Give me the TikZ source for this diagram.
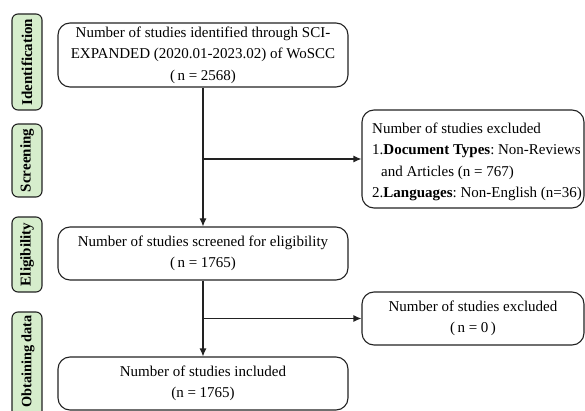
\documentclass[tikz,border=0pt]{standalone}
\usepackage{fontspec}
\setmainfont{Liberation Serif}
\usetikzlibrary{arrows.meta}
\definecolor{tabgreen}{HTML}{D6EDCC}
\definecolor{edge}{HTML}{222222}
\begin{document}
\frenchspacing
\begin{tikzpicture}[x=1pt,y=-1pt,
  font=\fontsize{15}{21.5}\selectfont,
  box/.style={draw=edge,line width=1.1pt,rounded corners=12pt,inner sep=0pt,align=center},
  tab/.style={draw=edge,fill=tabgreen,line width=1.1pt,rounded corners=6pt,inner sep=0pt,rotate=90,font=\fontsize{15}{18}\selectfont\bfseries},
  tablabel/.style={rotate=90,inner sep=0pt,font=\fontsize{14.3}{18}\selectfont\bfseries},
  link/.style={draw=edge,line width=1.1pt},
  arr/.style={link,-{Latex[length=8pt,width=7pt]}}]
\useasboundingbox (0,0) rectangle (585,411);
\begin{scope}
\clip (0,0) rectangle (585,411);
% tabs
\node[tab,minimum width=96pt,minimum height=30pt] (t1) at (27,62) {Identification};
\node[tab,minimum width=73pt,minimum height=30pt] (t2) at (27,160.5) {Screening};
\node[tab,minimum width=75pt,minimum height=30pt] (t3) at (27,254.5) {Eligibility};
\node[tab,minimum width=110pt,minimum height=30pt] (t4) at (27,367) {};
\node[tablabel] (t4l) at (28,361.5) {Obtaining data};
% main boxes
\node[box,minimum width=290pt,minimum height=64pt] (b1) at (203,55)
  {Number of studies identified through SCI-\\EXPANDED (2020.01-2023.02) of WoSCC\\(\,n = 2568)};
\node[box,minimum width=290pt,minimum height=53pt] (b2) at (203,253.5)
  {Number of studies screened for eligibility\\(\,n = 1765)};
\node[box,minimum width=290pt,minimum height=53pt] (b3) at (203,383.5)
  {Number of studies included\\(n = 1765)};
% exclusion boxes
\node[box,minimum width=222pt,minimum height=98pt] (e1) at (473,159) {};
\node[inner sep=0pt,align=left,anchor=west] (e1t) at (372,162)
  {Number of studies excluded\\1.\textbf{Document Types}: Non-Reviews\\\hspace*{0.6em}and Articles (n = 767)\\2.\textbf{Languages}: Non-English (n=36)};
\node[box,minimum width=222pt,minimum height=53pt] (e2) at (473,318.5)
  {Number of studies excluded\\(\,n = 0\,)};
% connectors
\coordinate (j1) at (b1.south |- e1.west);
\coordinate (j2) at (b2.south |- e2.west);
\draw[arr] (b1.south) -- (b2.north);
\draw[arr] (j1) -- (e1.west);
\draw[arr] (b2.south) -- (b3.north);
\draw[arr] (j2) -- (e2.west);
\end{scope}
\end{tikzpicture}
\end{document}
